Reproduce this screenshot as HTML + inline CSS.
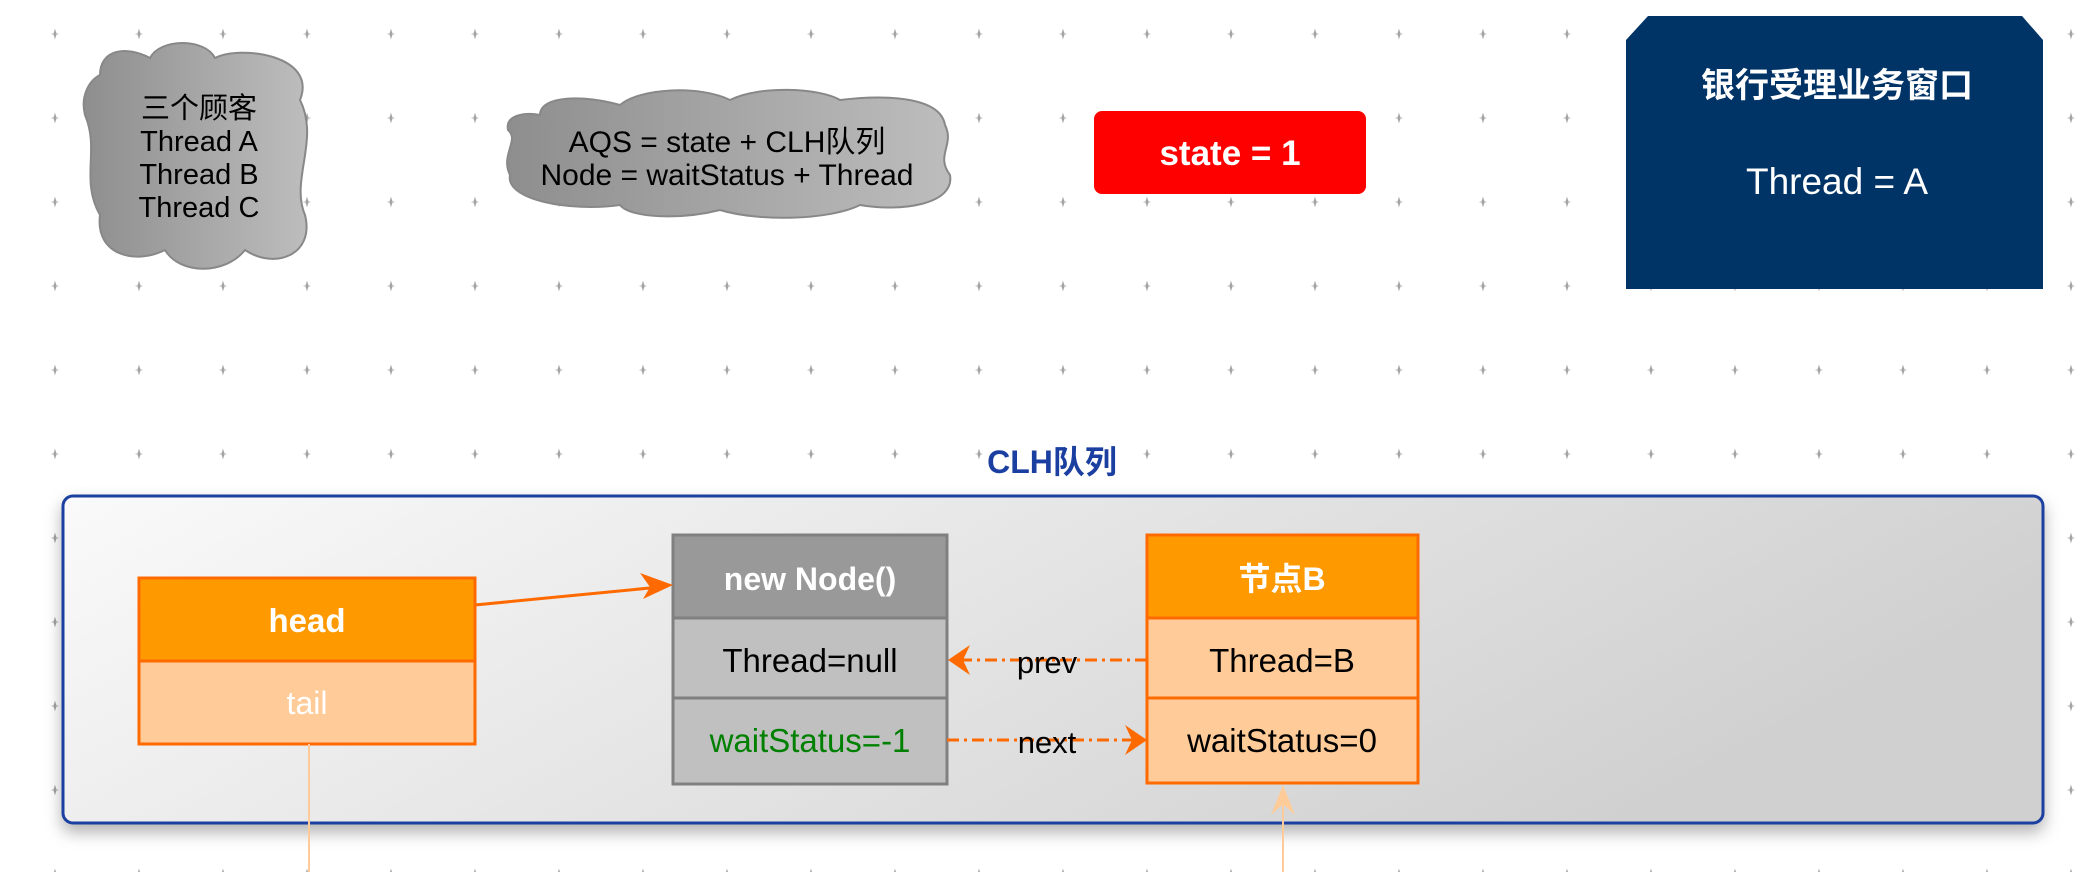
<!DOCTYPE html>
<html><head><meta charset="utf-8"><style>
html,body{margin:0;padding:0;background:#fff;}
svg{display:block;font-family:"Liberation Sans","Noto Sans CJK SC",sans-serif;}
</style></head><body>
<svg width="2098" height="872" viewBox="0 0 2098 872" xmlns="http://www.w3.org/2000/svg">
<defs>
<pattern id="dots" x="13" y="-8" width="84" height="84" patternUnits="userSpaceOnUse">
<path d="M42 38 L43.3 42 L42 46 L40.7 42Z M38.5 42 L45.5 42" fill="#999" stroke="#aaa" stroke-width="0.8"/>
</pattern>
<linearGradient id="cg" x1="0" y1="0" x2="1" y2="0"><stop offset="0" stop-color="#8e8e8e"/><stop offset="1" stop-color="#bdbdbd"/></linearGradient>
<linearGradient id="bg" x1="0" y1="0" x2="1" y2="0.3"><stop offset="0" stop-color="#fafafa"/><stop offset="1" stop-color="#d0d0d0"/></linearGradient>
<filter id="sh" x="-5%" y="-10%" width="110%" height="130%"><feDropShadow dx="0" dy="8" stdDeviation="8" flood-color="#000" flood-opacity="0.3"/></filter>
</defs>
<rect width="2098" height="872" fill="url(#dots)"/>
<!-- cloud 1 -->
<path d="M100 75 C100 50 125 45 150 58 C160 38 205 38 215 58 C240 45 318 55 300 100 C320 140 290 180 305 215 C315 255 275 270 245 250 C225 275 180 275 165 250 C135 265 95 255 100 215 C80 180 100 150 85 115 C80 95 90 80 100 75Z" fill="url(#cg)" stroke="#888" stroke-width="2"/>
<g font-size="29" text-anchor="middle" fill="#000">
<text x="199" y="118">三个顾客</text>
<text x="199" y="151">Thread A</text>
<text x="199" y="184">Thread B</text>
<text x="199" y="217">Thread C</text>
</g>
<!-- cloud 2 -->
<path d="M540 115 C540 95 585 95 620 105 C640 88 700 85 730 100 C760 85 820 88 840 100 C880 95 940 95 945 125 C955 145 935 155 950 175 C955 205 900 212 860 205 C830 220 760 222 720 210 C680 220 630 218 620 205 C570 212 505 200 510 175 C500 155 520 140 508 130 C505 115 525 112 540 115Z" fill="url(#cg)" stroke="#888" stroke-width="2"/>
<g font-size="30" text-anchor="middle" fill="#000">
<text x="727" y="152">AQS = state + CLH队列</text>
<text x="727" y="185">Node = waitStatus + Thread</text>
</g>
<!-- state -->
<rect x="1094" y="111" width="272" height="83" rx="8" fill="#ff0000"/>
<text x="1230" y="165" font-size="35" font-weight="bold" fill="#fff" text-anchor="middle">state = 1</text>
<!-- navy -->
<path d="M1648 16 L2022 16 L2043 40 L2043 289 L1626 289 L1626 40Z" fill="#003366"/>
<text x="1837" y="97" font-size="34" font-weight="bold" fill="#fff" text-anchor="middle">银行受理业务窗口</text>
<text x="1837" y="194" font-size="37" fill="#fff" text-anchor="middle">Thread = A</text>
<!-- CLH label -->
<text x="1052" y="473" font-size="32" font-weight="bold" fill="#1a3fa0" text-anchor="middle">CLH队列</text>
<rect x="63" y="496" width="1980" height="327" rx="10" fill="url(#bg)" stroke="#1a3fa0" stroke-width="3" filter="url(#sh)"/>
<!-- head -->
<rect x="139" y="578" width="336" height="83" fill="#ff9900" stroke="#ff6a00" stroke-width="3"/>
<rect x="139" y="661" width="336" height="83" fill="#ffcc99" stroke="#ff6a00" stroke-width="3"/>
<text x="307" y="632" font-size="33" font-weight="bold" fill="#fff" text-anchor="middle">head</text>
<text x="307" y="714" font-size="32" fill="#fff" text-anchor="middle">tail</text>
<!-- new node -->
<rect x="673" y="535" width="274" height="83" fill="#999" stroke="#808080" stroke-width="3"/>
<rect x="673" y="618" width="274" height="80" fill="#c0c0c0" stroke="#808080" stroke-width="3"/>
<rect x="673" y="698" width="274" height="86" fill="#c0c0c0" stroke="#808080" stroke-width="3"/>
<text x="810" y="590" font-size="32" font-weight="bold" fill="#fff" text-anchor="middle">new Node()</text>
<text x="810" y="672" font-size="33" fill="#000" text-anchor="middle">Thread=null</text>
<text x="810" y="752" font-size="33" fill="#008000" text-anchor="middle">waitStatus=-1</text>
<!-- node B -->
<rect x="1147" y="535" width="271" height="83" fill="#ff9900" stroke="#ff6a00" stroke-width="3"/>
<rect x="1147" y="618" width="271" height="80" fill="#ffcc99" stroke="#ff6a00" stroke-width="3"/>
<rect x="1147" y="698" width="271" height="85" fill="#ffcc99" stroke="#ff6a00" stroke-width="3"/>
<text x="1282" y="590" font-size="32" font-weight="bold" fill="#fff" text-anchor="middle">节点B</text>
<text x="1282" y="672" font-size="33" fill="#000" text-anchor="middle">Thread=B</text>
<text x="1282" y="752" font-size="33" fill="#000" text-anchor="middle">waitStatus=0</text>
<!-- arrows -->
<line x1="475" y1="605" x2="660" y2="587" stroke="#ff6a00" stroke-width="3"/>
<path d="M673 585 L643 599 L650 587 L640 573Z" fill="#ff6a00"/>
<line x1="1147" y1="660" x2="962" y2="660" stroke="#ff6a00" stroke-width="3" stroke-dasharray="12,5,3,5"/>
<path d="M948 660 L970 645 L963 660 L970 675Z" fill="#ff6a00"/>
<line x1="947" y1="740" x2="1132" y2="740" stroke="#ff6a00" stroke-width="3" stroke-dasharray="12,5,3,5"/>
<path d="M1147 740 L1125 725 L1132 740 L1125 755Z" fill="#ff6a00"/>
<text x="1047" y="673" font-size="31" fill="#000" text-anchor="middle">prev</text>
<text x="1047" y="753" font-size="31" fill="#000" text-anchor="middle">next</text>
<!-- verticals -->
<line x1="309" y1="744" x2="309" y2="872" stroke="#ffcc99" stroke-width="2"/>
<line x1="1283" y1="800" x2="1283" y2="872" stroke="#ffcc99" stroke-width="2"/>
<path d="M1283 785 L1271 815 L1283 804 L1295 815Z" fill="#ffcc99"/>
</svg>
</body></html>
